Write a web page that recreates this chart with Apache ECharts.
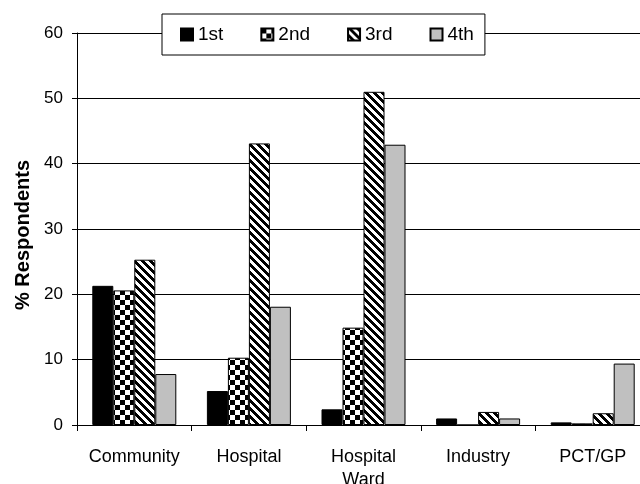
<!DOCTYPE html>
<html>
<head>
<meta charset="utf-8">
<script src="https://cdn.jsdelivr.net/npm/echarts@6/dist/echarts.min.js"></script>
<style>html,body{margin:0;padding:0;background:#fff;overflow:hidden;}#c{width:640px;height:484px;}</style>
</head>
<body>
<div id="c"></div>
<script>
var categories = ['Community', 'Hospital', 'Hospital\nWard', 'Industry', 'PCT/GP'];
var seriesNames = ['1st', '2nd', '3rd', '4th'];
var first = [21.3, 5.2, 2.4, 1.0, 0.4];
var second = [20.6, 10.3, 14.9, 0, 0.25];
var third = [25.3, 43.1, 51.0, 2.0, 1.8];
var fourth = [7.8, 18.1, 42.9, 1.0, 9.4];
var yTicks = { min: 0, max: 60, interval: 10 };

function makeChecker() {
  var c = document.createElement('canvas');
  c.width = 10; c.height = 10;
  var ctx = c.getContext('2d');
  ctx.fillStyle = '#fff'; ctx.fillRect(0, 0, 10, 10);
  ctx.fillStyle = '#000';
  ctx.fillRect(0, 0, 5, 5); ctx.fillRect(5, 5, 5, 5);
  return c;
}
function makeDiag() {
  var n = 8;
  var c = document.createElement('canvas');
  c.width = n; c.height = n;
  var ctx = c.getContext('2d');
  ctx.fillStyle = '#fff'; ctx.fillRect(0, 0, n, n);
  ctx.fillStyle = '#000';
  for (var y = 0; y < n; y++) {
    for (var x = 0; x < n; x++) {
      if (((x - y) % n + n) % n < 4) ctx.fillRect(x, y, 1, 1);
    }
  }
  return c;
}

var fills = [
  '#000000',
  { image: makeChecker(), repeat: 'repeat' },
  { image: makeDiag(), repeat: 'repeat' },
  '#c0c0c0'
];
var dataSets = [first, second, third, fourth];

var chart = echarts.init(document.getElementById('c'), null, { renderer: 'canvas' });
var font = '"Liberation Sans", Arial, sans-serif';
chart.setOption({
  animation: false,
  backgroundColor: '#fff',
  textStyle: { fontFamily: font },
  legend: {
    left: 162, top: 14,
    orient: 'horizontal',
    backgroundColor: '#fff',
    borderColor: '#000', borderWidth: 1,
    padding: [11, 11, 11, 18],
    itemGap: 37,
    itemWidth: 12, itemHeight: 12,
    icon: 'rect',
    textStyle: { fontSize: 19, color: '#000', fontFamily: font },
    data: seriesNames
  },
  grid: { left: 77, top: 33, bottom: 59, right: -10, containLabel: false, outerBoundsMode: 'none' },
  xAxis: {
    type: 'category',
    data: categories,
    boundaryGap: true,
    axisLine: { lineStyle: { color: '#000', width: 1 } },
    axisTick: { show: true, length: 6, alignWithLabel: false, lineStyle: { color: '#000' } },
    axisLabel: { color: '#000', fontSize: 18, lineHeight: 23, margin: 21, interval: 0, fontFamily: font }
  },
  yAxis: {
    type: 'value',
    min: yTicks.min, max: yTicks.max, interval: yTicks.interval,
    name: '% Respondents',
    nameLocation: 'middle',
    nameGap: 42,
    nameTextStyle: { fontSize: 20, fontWeight: 'bold', color: '#000', fontFamily: font, padding: [0, 12, 0, 0] },
    axisLine: { show: true, lineStyle: { color: '#000', width: 1 } },
    axisTick: { show: true, length: 5, lineStyle: { color: '#000' } },
    axisLabel: { color: '#000', fontSize: 17, margin: 14, fontFamily: font },
    splitLine: { show: true, lineStyle: { color: '#000', width: 1 } }
  },
  series: dataSets.map(function (d, i) {
    return {
      name: seriesNames[i],
      type: 'bar',
      data: d,
      barWidth: 21,
      barGap: '0%',
      itemStyle: { color: fills[i], borderColor: '#000', borderWidth: 1 }
    };
  })
});
</script>
</body>
</html>
